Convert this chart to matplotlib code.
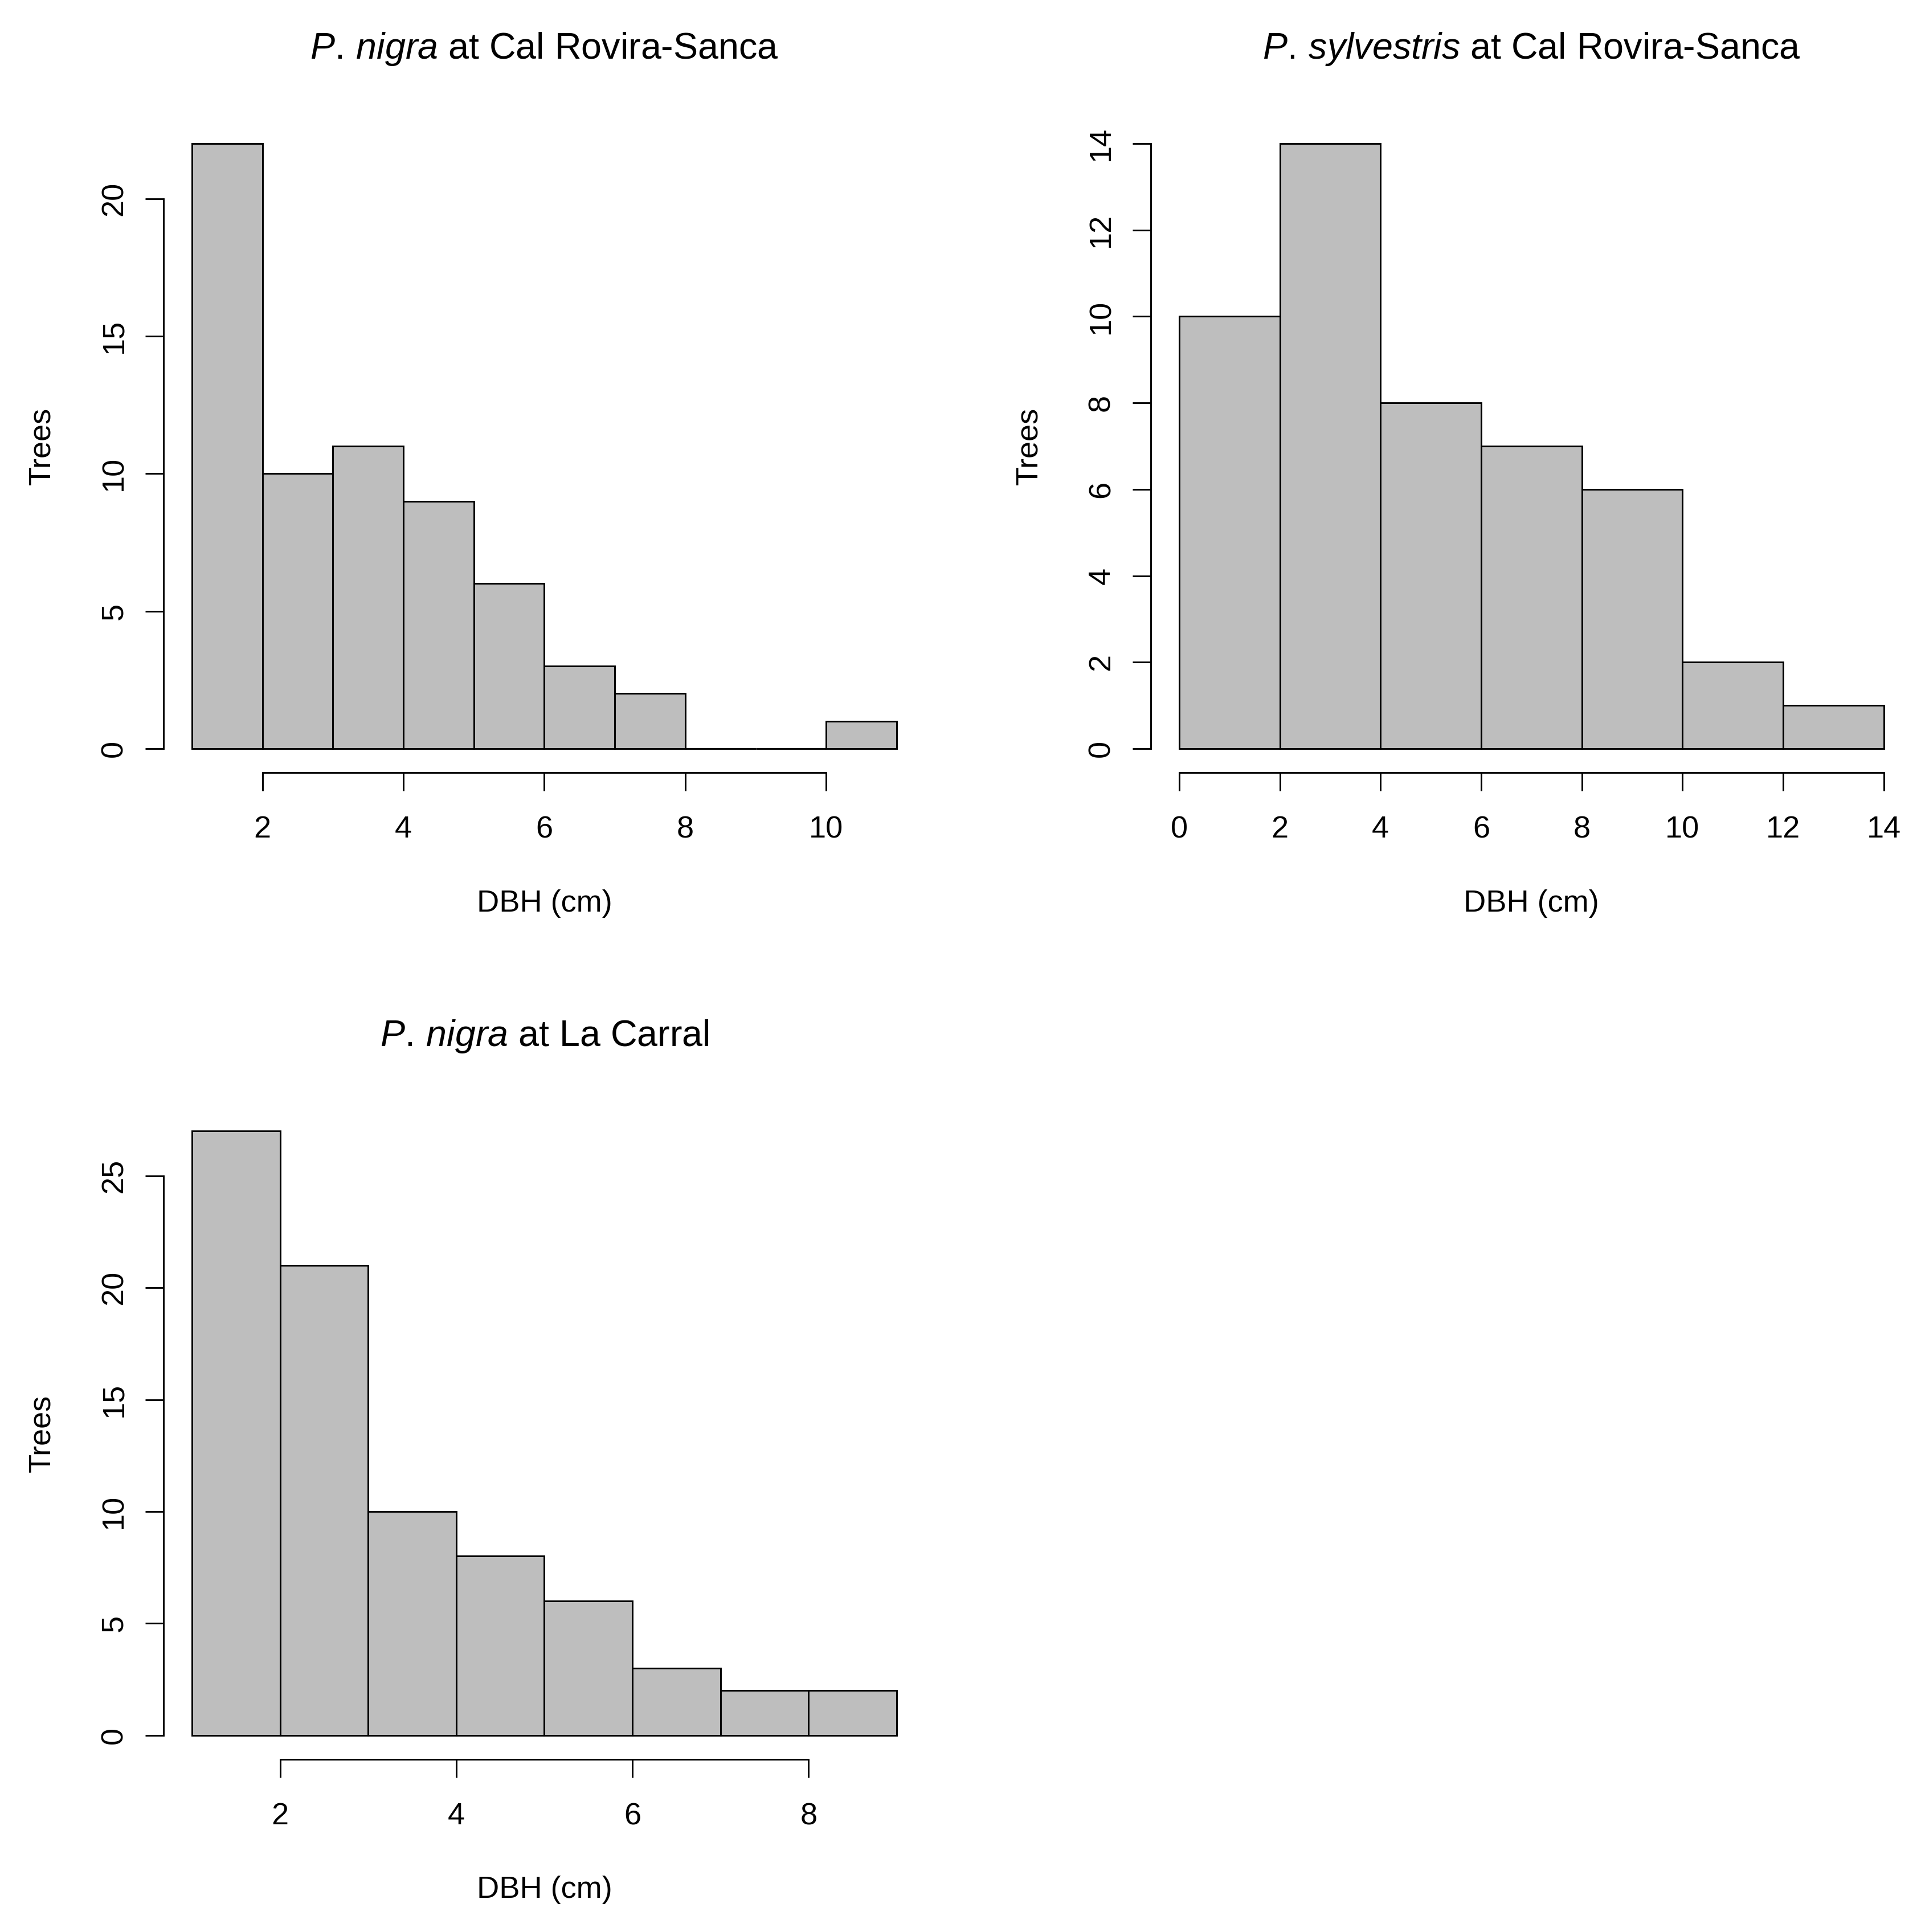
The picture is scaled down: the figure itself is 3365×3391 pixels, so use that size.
"""
Histograms of tree DBH per species / site, drawn in the look of base R hist().
"""

import matplotlib
matplotlib.use("Agg")
import matplotlib.pyplot as plt

# bin edges and counts for each panel
edges_nigra_crs = [1, 2, 3, 4, 5, 6, 7, 8, 9, 10, 11]
counts_nigra_crs = [22, 10, 11, 9, 6, 3, 2, 0, 0, 1]

edges_sylv_crs = [0, 2, 4, 6, 8, 10, 12, 14]
counts_sylv_crs = [10, 14, 8, 7, 6, 2, 1]

edges_nigra_lc = [1, 2, 3, 4, 5, 6, 7, 8, 9]
counts_nigra_lc = [27, 21, 10, 8, 6, 3, 2, 2]

xticks_nigra_crs = [2, 4, 6, 8, 10]
yticks_nigra_crs = [0, 5, 10, 15, 20]
xticks_sylv_crs = [0, 2, 4, 6, 8, 10, 12, 14]
yticks_sylv_crs = [0, 2, 4, 6, 8, 10, 12, 14]
xticks_nigra_lc = [2, 4, 6, 8]
yticks_nigra_lc = [0, 5, 10, 15, 20, 25]

titles = [
    r"$\mathit{P.\,nigra}$ at Cal Rovira-Sanca",
    r"$\mathit{P.\,sylvestris}$ at Cal Rovira-Sanca",
    r"$\mathit{P.\,nigra}$ at La Carral",
]

plt.rcParams["font.family"] = ["Liberation Sans", "DejaVu Sans"]
plt.rcParams["mathtext.fontset"] = "custom"
plt.rcParams["mathtext.rm"] = "Liberation Sans"
plt.rcParams["mathtext.it"] = "Liberation Sans:italic"

LW = 0.7
FS = 13

fig = plt.figure(figsize=(3365 / 300, 3391 / 300), dpi=300)

# axes boxes [left, bottom, width, height] in figure fraction
boxes = [
    [0.0854, 0.6000, 0.3971, 0.3382],
    [0.6004, 0.6000, 0.3970, 0.3382],
    [0.0854, 0.0893, 0.3971, 0.3378],
]

panels = [
    (edges_nigra_crs, counts_nigra_crs, xticks_nigra_crs, yticks_nigra_crs),
    (edges_sylv_crs, counts_sylv_crs, xticks_sylv_crs, yticks_sylv_crs),
    (edges_nigra_lc, counts_nigra_lc, xticks_nigra_lc, yticks_nigra_lc),
]

for box, (edges, counts, xt, yt), title in zip(boxes, panels, titles):
    ax = fig.add_axes(box)
    widths = [b - a for a, b in zip(edges[:-1], edges[1:])]
    ax.bar(edges[:-1], counts, width=widths, align="edge",
           color="#BEBEBE", edgecolor="black", linewidth=LW)

    # R-style 4% padding on both axes
    xr = edges[-1] - edges[0]
    ax.set_xlim(edges[0] - 0.04 * xr, edges[-1] + 0.04 * xr)
    yr = max(counts)
    ax.set_ylim(-0.04 * yr, yr * 1.04)

    ax.set_xticks(xt)
    ax.set_yticks(yt)
    for side in ["top", "right"]:
        ax.spines[side].set_visible(False)
    ax.spines["bottom"].set_bounds(xt[0], xt[-1])
    ax.spines["left"].set_bounds(yt[0], yt[-1])
    ax.spines["bottom"].set_linewidth(LW)
    ax.spines["left"].set_linewidth(LW)

    ax.tick_params(axis="both", length=7.7, width=LW, labelsize=FS, color="black")
    ax.tick_params(axis="x", pad=10.3)
    ax.tick_params(axis="y", pad=7.2, labelrotation=90)
    for lab in ax.get_yticklabels():
        lab.set_va("center")

    ax.set_xlabel("DBH (cm)", fontsize=FS, labelpad=19)
    ax.set_ylabel("Trees", fontsize=FS, labelpad=18.5)
    ax.set_title(title, fontsize=15.5, pad=25.5)

fig.savefig("out.png", dpi=300, facecolor="white")
